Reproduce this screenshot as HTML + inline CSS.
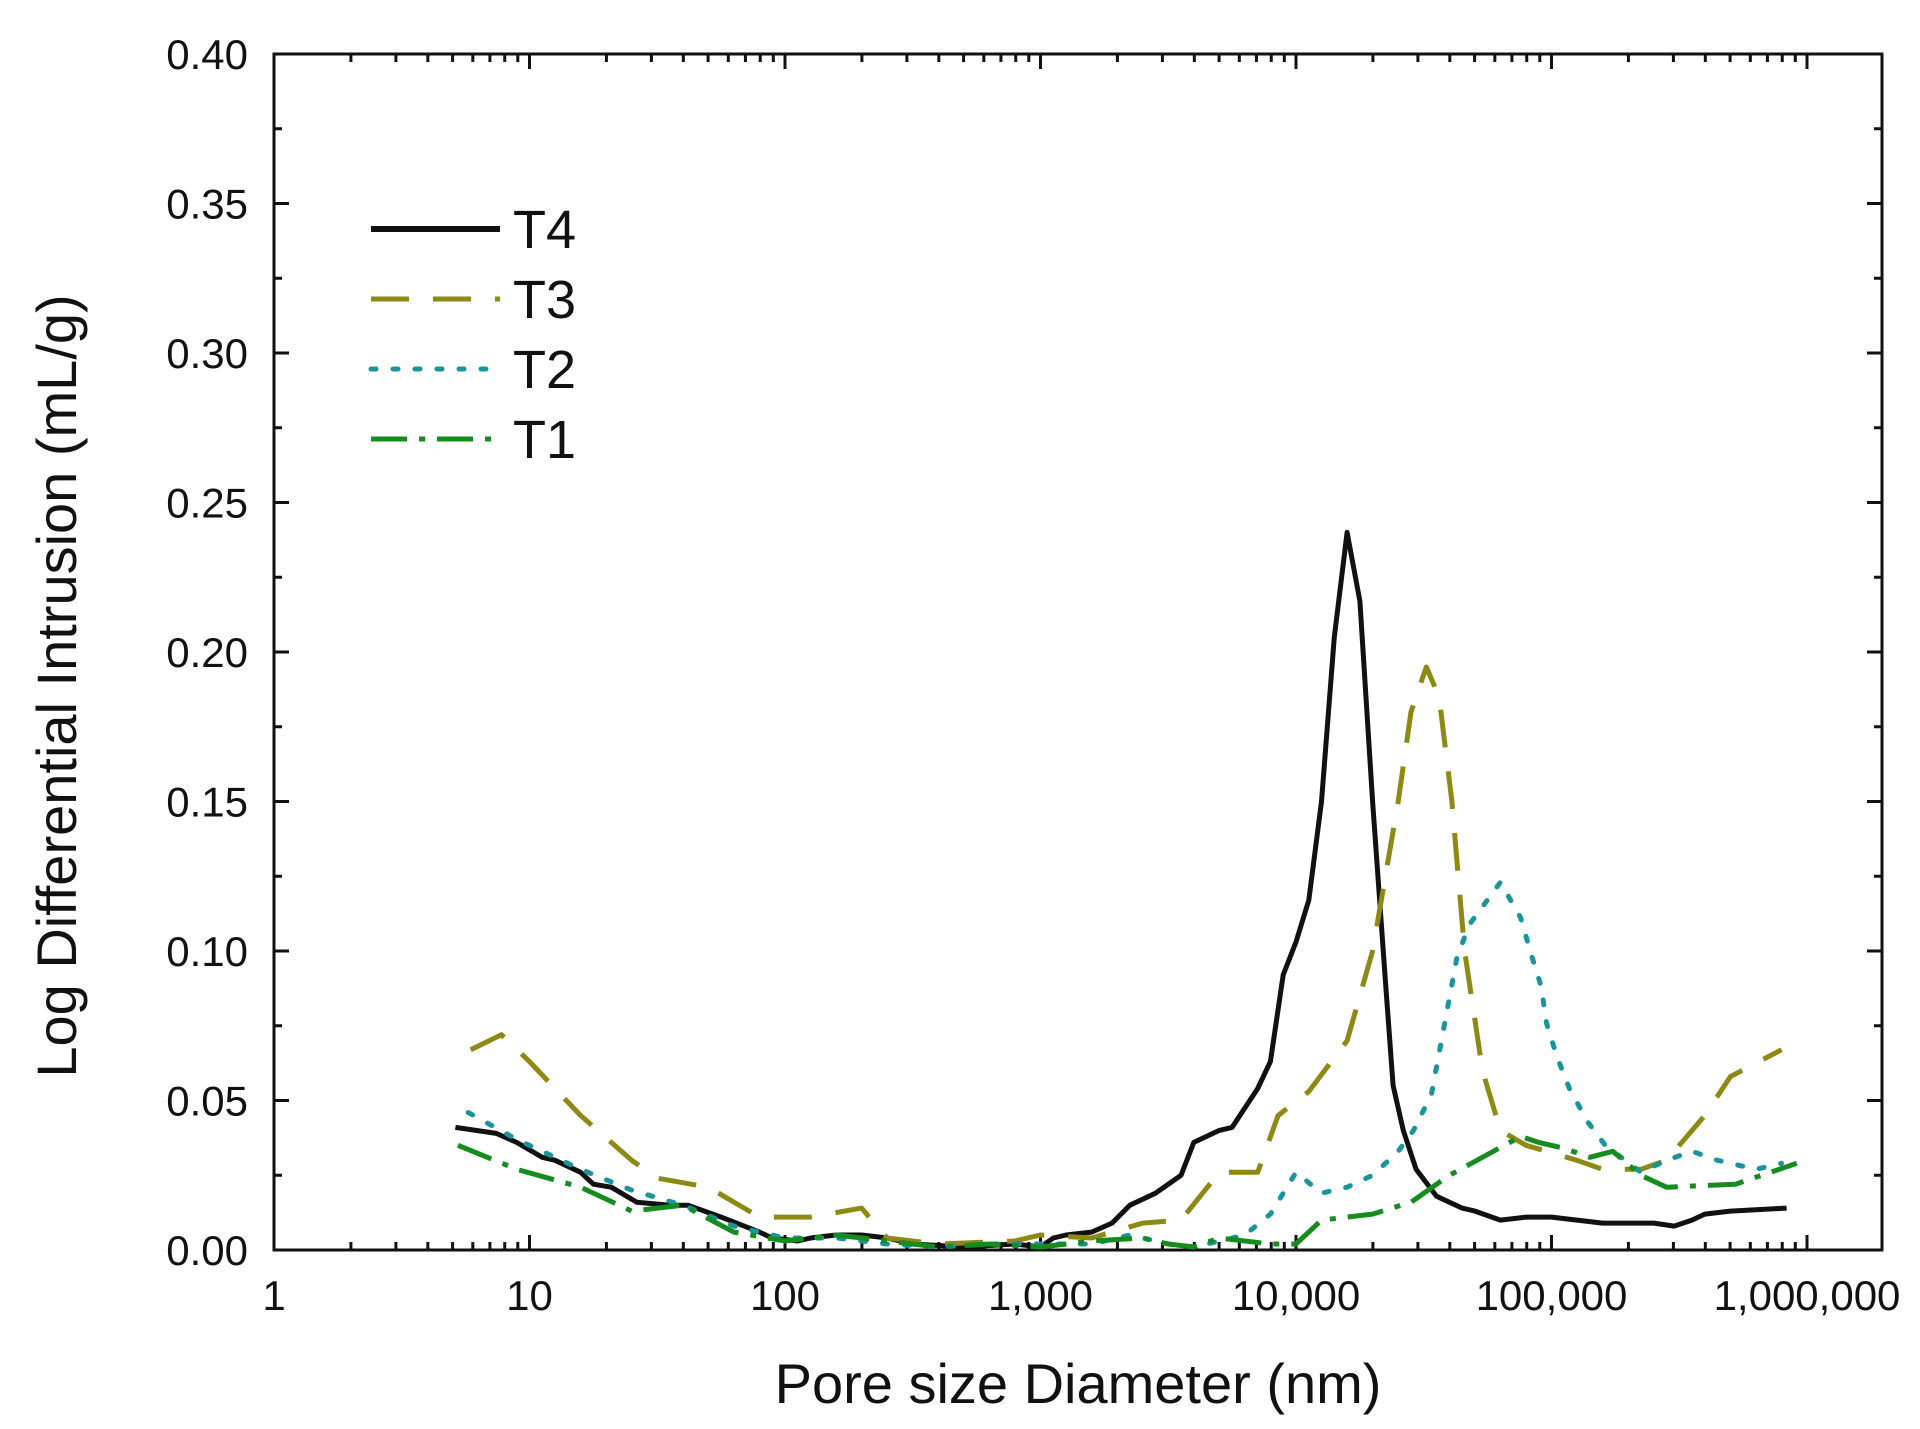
<!DOCTYPE html>
<html><head><meta charset="utf-8"><style>
html,body{margin:0;padding:0;background:#fff}
svg{display:block}
text{font-family:"Liberation Sans",sans-serif;fill:#111}
</style></head><body>
<svg id="chart" width="1920" height="1429" viewBox="0 0 1920 1429" xmlns="http://www.w3.org/2000/svg">
<g id="axes"></g>
<g id="series"></g>
<g id="legend"></g>
<text x="1078" y="1403" font-size="56" text-anchor="middle">Pore size Diameter (nm)</text>
<text transform="translate(76,686) rotate(-90)" font-size="56" text-anchor="middle">Log Differential Intrusion (mL/g)</text>
</svg>
<script>
const xTickValues = [1,10,100,1000,10000,100000,1000000];
const xTickLabels = ["1","10","100","1,000","10,000","100,000","1,000,000"];
const yTickValues = [0,0.05,0.10,0.15,0.20,0.25,0.30,0.35,0.40];
const yTickLabels = ["0.00","0.05","0.10","0.15","0.20","0.25","0.30","0.35","0.40"];
const seriesNames = ["T4","T3","T2","T1"];
const t4LogX = [0.71,0.87,0.95,1.05,1.1,1.2,1.25,1.32,1.42,1.55,1.62,1.75,1.9,1.95,2.05,2.1,2.2,2.3,2.4,2.5,2.7,2.9,3.0,3.05,3.1,3.2,3.28,3.35,3.45,3.55,3.6,3.7,3.75,3.85,3.9,3.95,4.0,4.05,4.1,4.15,4.2,4.25,4.3,4.35,4.38,4.42,4.47,4.55,4.65,4.7,4.8,4.9,5.0,5.1,5.2,5.3,5.4,5.48,5.55,5.6,5.7,5.92];
const t4Y = [0.041,0.039,0.036,0.031,0.030,0.026,0.022,0.021,0.016,0.015,0.015,0.011,0.006,0.004,0.003,0.004,0.005,0.005,0.004,0.002,0.001,0.002,0.001,0.004,0.005,0.006,0.009,0.015,0.019,0.025,0.036,0.040,0.041,0.054,0.063,0.092,0.103,0.117,0.150,0.205,0.240,0.217,0.150,0.090,0.055,0.040,0.027,0.018,0.014,0.013,0.010,0.011,0.011,0.010,0.009,0.009,0.009,0.008,0.010,0.012,0.013,0.014];
const t3LogX = [0.77,0.89,1.0,1.2,1.4,1.5,1.7,1.9,2.1,2.3,2.4,2.6,2.9,3.0,3.2,3.4,3.55,3.7,3.85,3.93,4.05,4.2,4.3,4.4,4.45,4.51,4.56,4.61,4.66,4.73,4.8,4.9,5.1,5.2,5.35,5.45,5.6,5.7,5.9];
const t3Y = [0.067,0.072,0.063,0.045,0.030,0.024,0.021,0.011,0.011,0.014,0.004,0.002,0.003,0.005,0.004,0.009,0.010,0.026,0.026,0.045,0.053,0.070,0.100,0.150,0.180,0.195,0.185,0.150,0.100,0.060,0.040,0.035,0.030,0.027,0.027,0.030,0.045,0.058,0.067];
const t2LogX = [0.76,0.95,1.2,1.4,1.6,1.8,2.0,2.2,2.4,2.6,2.8,3.0,3.2,3.35,3.5,3.6,3.8,3.9,4.0,4.1,4.2,4.3,4.4,4.46,4.53,4.58,4.63,4.68,4.8,4.88,4.92,4.96,4.98,5.02,5.07,5.14,5.21,5.35,5.45,5.55,5.65,5.8,5.9];
const t2Y = [0.046,0.037,0.027,0.020,0.015,0.008,0.004,0.004,0.002,0.001,0.002,0.002,0.002,0.005,0.002,0.001,0.005,0.012,0.026,0.019,0.021,0.025,0.033,0.040,0.052,0.075,0.098,0.109,0.123,0.111,0.099,0.088,0.076,0.065,0.054,0.043,0.035,0.026,0.030,0.033,0.030,0.027,0.029];
const t1LogX = [0.72,0.95,1.2,1.4,1.6,1.8,2.0,2.2,2.4,2.6,2.8,3.0,3.2,3.4,3.5,3.6,3.7,3.9,4.0,4.1,4.3,4.45,4.6,4.88,4.95,5.05,5.15,5.24,5.35,5.45,5.72,5.96];
const t1Y = [0.035,0.027,0.021,0.013,0.015,0.006,0.003,0.005,0.003,0.001,0.002,0.001,0.003,0.004,0.002,0.001,0.004,0.002,0.002,0.010,0.012,0.016,0.025,0.038,0.036,0.034,0.031,0.033,0.025,0.021,0.022,0.029];

const NS="http://www.w3.org/2000/svg";
const L=274,R=1882,T=54,B=1250,DEC=255.5;
function xs(v){return L+Math.log10(v)*DEC;}
function xl(lg){return L+lg*DEC;}
function ys(v){return B-(v/0.4)*(B-T);}
function mk(tag,attrs,parent){const e=document.createElementNS(NS,tag);for(const k in attrs)e.setAttribute(k,attrs[k]);parent.appendChild(e);return e;}
const axes=document.getElementById('axes');
const frame=mk('rect',{x:L,y:T,width:R-L,height:B-T,fill:'none',stroke:'#111','stroke-width':3},axes);


for(let d=0;d<7;d++){
  const base=Math.pow(10,d);
  for(let m=1;m<10;m++){
    const v=base*m; const x=xs(v);
    if(x>R-2) break;
    if(d===6&&m>1) break;
    const len=m===1?15:8;
    const t1=mk('line',{x1:x,x2:x,y1:B,y2:B-len,stroke:'#111','stroke-width':3},axes);
    
    
    const t2=mk('line',{x1:x,x2:x,y1:T,y2:T+len,stroke:'#111','stroke-width':3},axes);
    
    
  }
}
xTickValues.forEach((v,i)=>{
  const t=mk('text',{x:xs(v),y:1310,'font-size':42,'text-anchor':'middle'},axes);
  t.textContent=xTickLabels[i];
  
  
});
for(let v=0;v<=0.4001;v+=0.025){
  const y=ys(v); const major=Math.round(v*1000)%50===0; const len=major?15:8;
  const a=mk('line',{x1:L,x2:L+len,y1:y,y2:y,stroke:'#111','stroke-width':3},axes);
  
  
  const b=mk('line',{x1:R,x2:R-len,y1:y,y2:y,stroke:'#111','stroke-width':3},axes);
  
  
}
yTickValues.forEach((v,i)=>{
  const t=mk('text',{x:248,y:ys(v)+15,'font-size':42,'text-anchor':'end'},axes);
  t.textContent=yTickLabels[i];
  
  
});
const styles=[
  {c:'#111111',d:''},
  {c:'#8c8a14',d:'38 24'},
  {c:'#18949a',d:'5 17'},
  {c:'#148c1e',d:'36 12 6 12'}
];
const xsets=[t4LogX,t3LogX,t2LogX,t1LogX], ysets=[t4Y,t3Y,t2Y,t1Y];
const sg=document.getElementById('series');
xsets.forEach((xa,i)=>{
  const pts=xa.map((lg,j)=>xl(lg).toFixed(1)+','+ys(ysets[i][j]).toFixed(1)).join(' ');
  const p=mk('polyline',{points:pts,fill:'none',stroke:styles[i].c,'stroke-width':5,'stroke-linejoin':'round','stroke-linecap':i===2?'round':'butt'},sg);
  if(styles[i].d)p.setAttribute('stroke-dasharray',styles[i].d);
  
  
});
const lg=document.getElementById('legend');
seriesNames.forEach((n,i)=>{
  const y=229+i*70;
  const l=mk('line',{x1:371,x2:500,y1:y,y2:y,stroke:styles[i].c,'stroke-width':i===0?6:5,'stroke-linecap':i===2?'round':'butt'},lg);
  if(styles[i].d)l.setAttribute('stroke-dasharray',styles[i].d);
  
  
  const t=mk('text',{x:513,y:y+19,'font-size':54},lg);
  t.textContent=n;
  
  
});
</script>
</body></html>
